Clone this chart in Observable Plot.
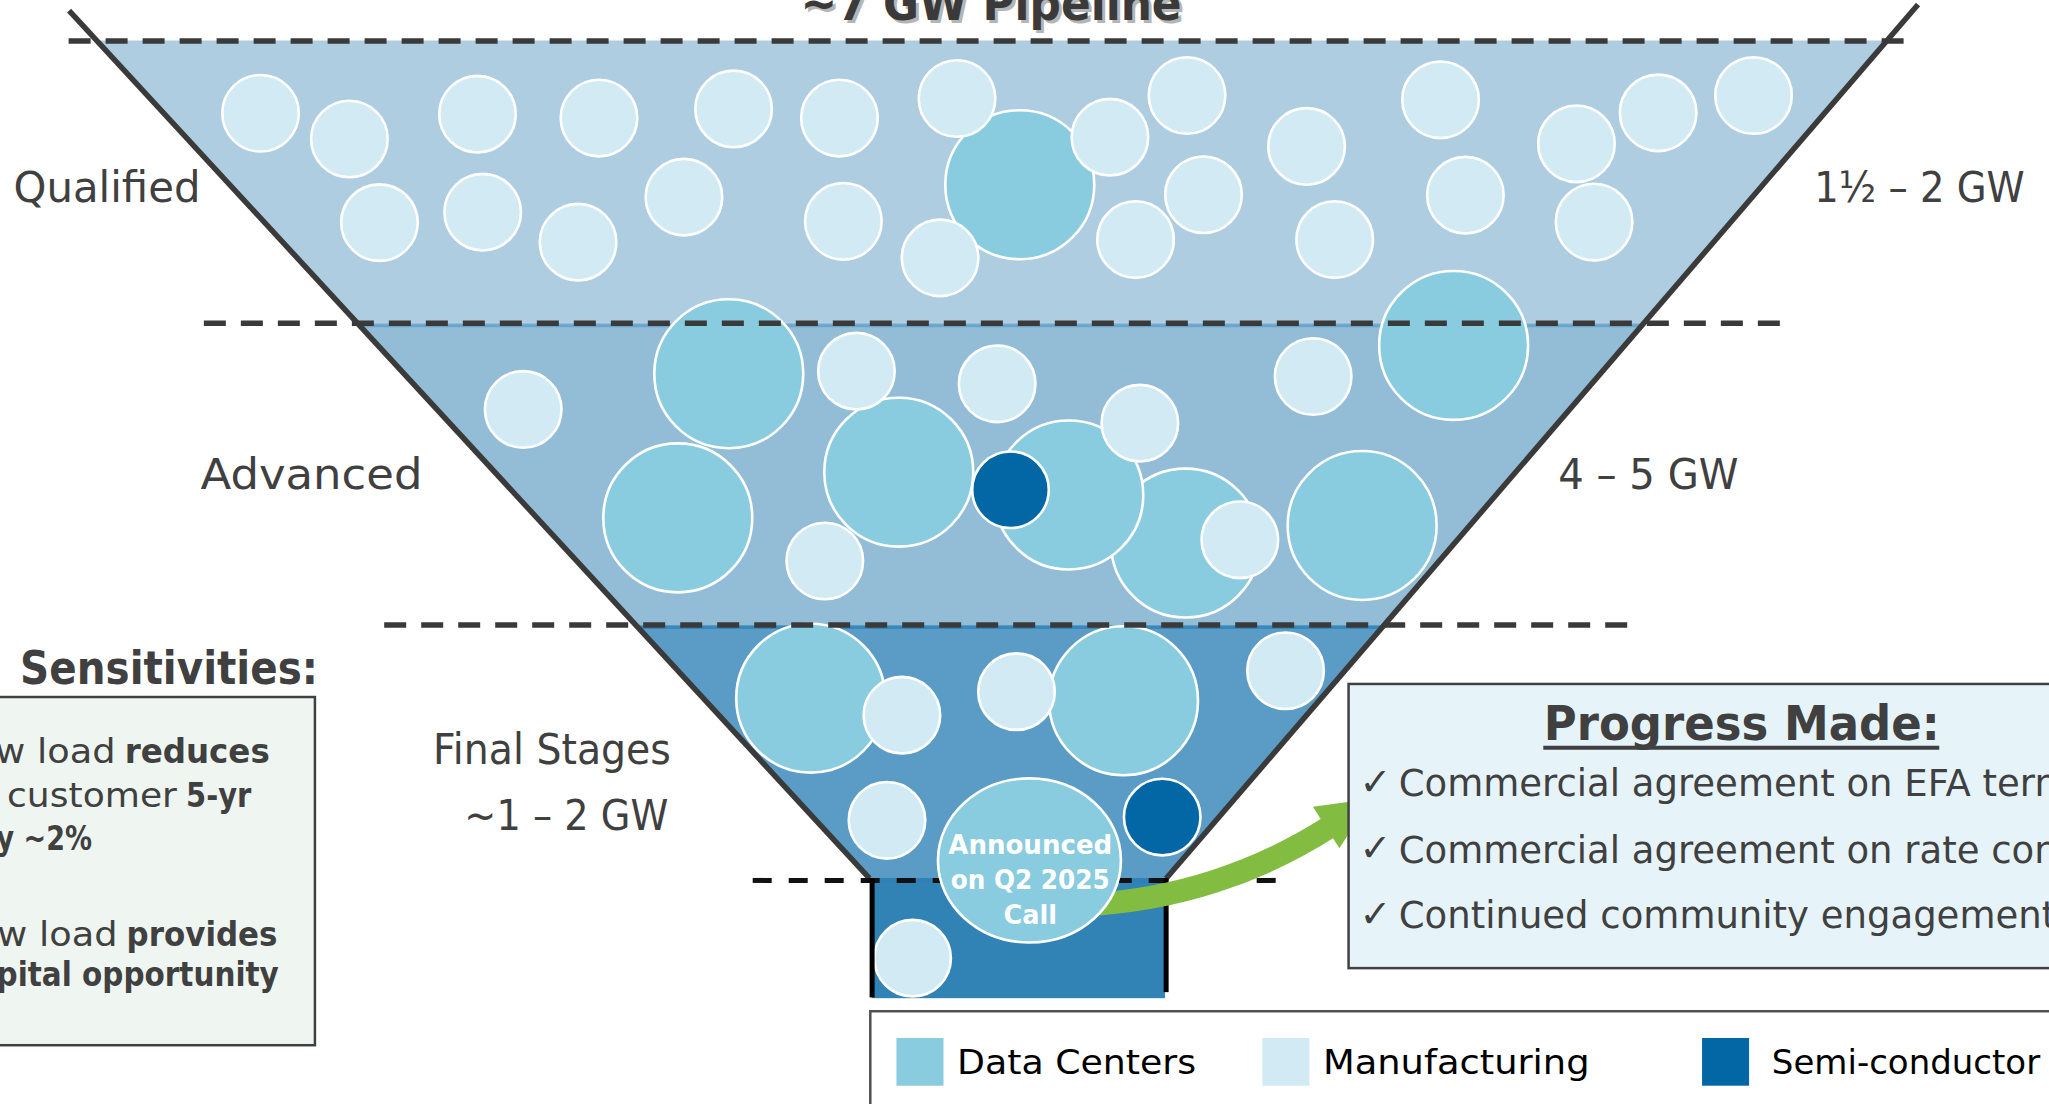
<!DOCTYPE html>
<html><head><meta charset="utf-8">
<script src="https://cdn.jsdelivr.net/npm/d3@7"></script>
<script src="https://cdn.jsdelivr.net/npm/@observablehq/plot@0.6"></script>
<style>html,body{margin:0;padding:0;background:#fff;overflow:hidden;}#chart svg{display:block}</style>
</head><body><div id="chart"></div>
<script>
// ---------- data ----------
const title = "~7 GW Pipeline";
const stageNames = ["Qualified", "Advanced", "Final Stages"];
const stageRanges = ["1½ – 2 GW", "4 – 5 GW", "~1 – 2 GW"];
const stageTops = [31, 247, 478];
const stageBottoms = [247, 478, 672];
const stageColors = ["#aecde1", "#93bcd6", "#5b9cc6"];
const segments = ["Data Centers", "Manufacturing", "Semi-conductor"];
const segmentColors = ["#89cce0", "#d1eaf4", "#0366a5"];
const segmentRadius = [57, 29.3, 29.3];
// project bubbles: x, y (diagram units) and segment index, in drawing order
const projX = [780, 199, 267, 365, 458, 561, 642, 732, 290, 369, 442, 523, 645, 719, 849, 908, 920.6, 868.6, 999.5, 1021, 1102, 1121, 1206, 1268.5, 1341.5, 1219.5,
  906.8, 817.5, 687.4, 557.3, 1112, 1042, 518.3, 655, 762.7, 1004.5, 400, 871.9, 948.4, 630.8, 772.9,
  689.8, 777.5, 620, 859.4, 983.4, 678.4, 889, 698];
const projY = [141, 86.3, 106, 87, 90, 83, 90, 75, 170, 162, 185, 150.5, 169, 197, 104.6, 72.7, 148.7, 183, 111.7, 183, 76, 149, 109.7, 86, 72.7, 169.6,
  415.3, 378.5, 361, 285.7, 264, 401.8, 396, 283.7, 293.4, 287.8, 313, 323.5, 412.8, 429, 374.5,
  547, 529, 534, 536, 513, 627.5, 625, 733];
const projSeg = [0, 1, 1, 1, 1, 1, 1, 1, 1, 1, 1, 1, 1, 1, 1, 1, 1, 1, 1, 1, 1, 1, 1, 1, 1, 1,
  0, 0, 0, 0, 0, 0, 0, 1, 1, 1, 1, 1, 1, 1, 2,
  1, 1, 0, 0, 1, 1, 2, 1];
const announcedLines = ["Announced", "on Q2 2025", "Call"];
const sensTitle = "Sensitivities:";
const sensRegular = ["w load", "customer", "", "w load", ""];
const sensBold = ["reduces", "5-yr", "y ~2%", "provides", "pital opportunity"];
const progressTitle = "Progress Made:";
const progressItems = ["Commercial agreement on EFA terms", "Commercial agreement on rate construct", "Continued community engagement"];

// ---------- layout (diagram units, 1568 x 845 canvas) ----------
const S = 2049 / 1568;
const L0 = [52.5, 7.7], L1 = [665, 672], R0 = [1467.4, 3], R1 = [892, 672];
const xl = y => L0[0] + (L1[0] - L0[0]) * (y - L0[1]) / (L1[1] - L0[1]);
const xr = y => R0[0] + (R1[0] - R0[0]) * (y - R0[1]) / (R1[1] - R0[1]);
const font = "'DejaVu Sans', sans-serif";
const dark = "#404040";
// target text widths (diagram units), to mimic the wide geometric face
const fit = {
  "Qualified": 143, "1½ – 2 GW": 161, "Advanced": 170, "4 – 5 GW": 138, "Final Stages": 182, "~1 – 2 GW": 156,
  "Sensitivities:": 228, "w load": 92, "reduces": 111, "customer": 130, "5-yr": 50, "y ~2%": 73, "provides": 115.5,
  "pital opportunity": 216, "Progress Made:": 303, "Data Centers": 183, "Manufacturing": 204,
  "Announced": 125.5, "on Q2 2025": 121.7, "Call": 41, "~7 GW Pipeline": 291.6
};

const projects = projX.map((x, i) => ({x, y: projY[i], seg: projSeg[i]}));
const bands = stageNames.flatMap((s, i) => [
  {stage: s, y: stageTops[i], x1: xl(stageTops[i]), x2: xr(stageTops[i])},
  {stage: s, y: stageBottoms[i], x1: xl(stageBottoms[i]), x2: xr(stageBottoms[i])}
]);
const dashes = [
  {y: 31, x1: 52.5, x2: 1468},
  {y: 247, x1: 156, x2: 1373},
  {y: 478, x1: 294, x2: 1255}
];

const ellipse = {
  draw(context, size) {
    const ry = Math.sqrt(size / Math.PI), rx = ry * 1.115, k = 0.5523;
    context.moveTo(rx, 0);
    context.bezierCurveTo(rx, ry * k, rx * k, ry, 0, ry);
    context.bezierCurveTo(-rx * k, ry, -rx, ry * k, -rx, 0);
    context.bezierCurveTo(-rx, -ry * k, -rx * k, -ry, 0, -ry);
    context.bezierCurveTo(rx * k, -ry, rx, -ry * k, rx, 0);
    context.closePath();
  }
};
const arrowHead = {
  draw(context, size) {
    const r = Math.sqrt(size / Math.PI);
    context.moveTo(0, -0.6 * r);
    context.lineTo(0.46 * r, 0.4 * r);
    context.lineTo(-0.46 * r, 0.4 * r);
    context.closePath();
  }
};

const marks = [];
stageNames.forEach((s, i) => {
  marks.push(Plot.areaX(bands.filter(d => d.stage === s), {y: "y", x1: "x1", x2: "x2", fill: stageColors[i]}));
});
marks.push(Plot.rect([0], {x1: 667, x2: 891.5, y1: 672, y2: 764, fill: "#3182b5"}));
marks.push(Plot.ruleY([249, 480], {x1: d => xl(d), x2: d => xr(d), stroke: d => d < 300 ? "#6aa6cc" : "#3a88bb", strokeWidth: 3}));
marks.push(Plot.ruleY([674], {x1: 667, x2: 891.5, stroke: "#2e7fb4", strokeWidth: 3}));
marks.push(Plot.dot(projects, {x: "x", y: "y", r: d => segmentRadius[d.seg], fill: d => segmentColors[d.seg], stroke: "white", strokeWidth: 2.6}));
marks.push(Plot.ruleY(dashes, {y: "y", x1: "x1", x2: "x2", stroke: "#3a3a3a", strokeWidth: 5.5, strokeDasharray: "22,15"}));
marks.push(Plot.link([0, 1], {x1: d => d ? R0[0] : L0[0], y1: d => d ? R0[1] : L0[1], x2: d => d ? R1[0] : L1[0], y2: d => d ? R1[1] : L1[1], stroke: "#3a3a3a", strokeWidth: 5.5}));
marks.push(Plot.ruleY([673.5], {x1: 576, x2: 980, stroke: "#111", strokeWidth: 5, strokeDasharray: "19,17"}));
marks.push(Plot.link([0, 1], {x1: d => d ? 892 : 667, x2: d => d ? 892 : 667, y1: 672, y2: d => d ? 759 : 763, stroke: "#000", strokeWidth: 5}));
// green arrow
marks.push(Plot.arrow([0], {x1: 832, y1: 692, x2: 1018, y2: 632, bend: -15, stroke: "#82bd41", strokeWidth: 23, headLength: 0}));
marks.push(Plot.dot([0], {x: 1028.3, y: 624.2, r: () => 41, symbol: arrowHead, rotate: 57.5, fill: "#82bd41", stroke: "none"}));
// announced bubble
marks.push(Plot.dot([0], {x: 787.4, y: 658.2, r: () => 62.8, symbol: ellipse, fill: segmentColors[0], stroke: "white", strokeWidth: 2.6}));
marks.push(Plot.text(announcedLines, {x: 788, y: (d, i) => [653, 680, 707][i], text: d => d, fill: "white", fontFamily: font, fontWeight: 700, fontSize: 27, lineAnchor: "bottom"}));

// title
marks.push(Plot.text([title], {x: 758, y: 15, text: d => d, fill: "#b5b5b5", dx: 3, dy: 3, fontFamily: font, fontWeight: 700, fontSize: 48, lineAnchor: "bottom"}));
marks.push(Plot.text([title], {x: 758, y: 15, text: d => d, fill: "#3a3a3a", fontFamily: font, fontWeight: 700, fontSize: 48, lineAnchor: "bottom"}));

// stage labels
const stageLabelX = [10, 153, 513], stageLabelY = [154, 374, 584], stageLabelAnchor = ["start", "start", "end"];
const rangeLabelX = [1549, 1192, 511], rangeLabelY = [154, 374, 635], rangeLabelAnchor = ["end", "start", "end"];
stageNames.forEach((s, i) => {
  marks.push(Plot.text([s], {x: stageLabelX[i], y: stageLabelY[i], text: d => d, textAnchor: stageLabelAnchor[i], fill: dark, fontFamily: font, fontSize: 42, lineAnchor: "bottom"}));
  marks.push(Plot.text([stageRanges[i]], {x: rangeLabelX[i], y: rangeLabelY[i], text: d => d, textAnchor: rangeLabelAnchor[i], fill: dark, fontFamily: font, fontSize: 42, lineAnchor: "bottom"}));
});

// sensitivities box
marks.push(Plot.text([sensTitle], {x: 15, y: 523, text: d => d, textAnchor: "start", fill: dark, fontFamily: font, fontWeight: 700, fontSize: 46, lineAnchor: "bottom"}));
marks.push(Plot.rect([0], {x1: -10, x2: 241, y1: 533.5, y2: 800, fill: "#eff6f1", stroke: dark, strokeWidth: 2.5}));
const sensY = [583.6, 617.3, 650, 724, 754.5];
const sensSplit = [95, 142, null, 96.5, null];
const sensEnd = [206, 191, 70, 212, 213];
sensBold.forEach((b, i) => {
  if (sensSplit[i] != null) {
    marks.push(Plot.text([sensRegular[i]], {x: sensSplit[i] - 7, y: sensY[i], text: d => d, textAnchor: "end", fill: dark, fontFamily: font, fontSize: 34, lineAnchor: "bottom"}));
    marks.push(Plot.text([b], {x: sensSplit[i], y: sensY[i], text: d => d, textAnchor: "start", fill: dark, fontFamily: font, fontWeight: 700, fontSize: 34, lineAnchor: "bottom"}));
  } else {
    marks.push(Plot.text([b], {x: sensEnd[i], y: sensY[i], text: d => d, textAnchor: "end", fill: dark, fontFamily: font, fontWeight: 700, fontSize: 34, lineAnchor: "bottom"}));
  }
});

// progress box
marks.push(Plot.rect([0], {x1: 1032, x2: 1620, y1: 523.5, y2: 741, fill: "#e6f4fa", stroke: dark, strokeWidth: 2.5}));
marks.push(Plot.text([progressTitle], {x: 1332.5, y: 566, text: d => d, fill: dark, fontFamily: font, fontWeight: 700, fontSize: 48, lineAnchor: "bottom"}));
marks.push(Plot.ruleY([572], {x1: 1181, x2: 1484, stroke: dark, strokeWidth: 4}));
const progY = [609, 660, 710];
marks.push(Plot.text(progressItems, {x: 1040, y: (d, i) => progY[i] - 1, text: () => "✓", textAnchor: "start", fill: dark, fontFamily: font, fontSize: 38, lineAnchor: "bottom"}));
marks.push(Plot.text(progressItems, {x: 1070, y: (d, i) => progY[i], text: d => d, textAnchor: "start", fill: dark, fontFamily: font, fontSize: 37, lineAnchor: "bottom"}));

// legend
const legendX = [686, 966, 1302.5];
marks.push(Plot.rect([0], {x1: 666, x2: 1620, y1: 774, y2: 900, fill: "white", stroke: "#505050", strokeWidth: 2.5}));
marks.push(Plot.rect(segments, {x1: (d, i) => legendX[i], x2: (d, i) => legendX[i] + 36, y1: 794.5, y2: 831, fill: (d, i) => segmentColors[i]}));
marks.push(Plot.text(segments, {x: (d, i) => legendX[i] + [46, 46, 53][i], y: 822, text: d => d, textAnchor: "start", fill: "#000", fontFamily: font, fontSize: 34, lineAnchor: "bottom"}));

const plot = Plot.plot({
  width: 2049, height: 1104, margin: 0,
  x: {domain: [0, 1568], range: [0, 2049], axis: null},
  y: {domain: [0, 845], range: [0, 1104], axis: null},
  r: {type: "linear", domain: [0, 845], range: [0, 1104]},
  style: {background: "#fff", overflow: "hidden"},
  marks
});
d3.select(plot).selectAll("text").each(function () {
  const w = fit[this.textContent];
  if (w) {
    this.setAttribute("textLength", (w * S).toFixed(1));
    this.setAttribute("lengthAdjust", "spacingAndGlyphs");
  }
});
document.getElementById("chart").appendChild(plot);
</script></body></html>
